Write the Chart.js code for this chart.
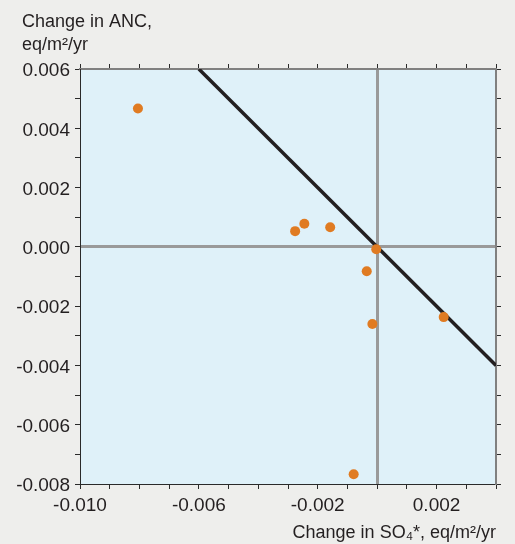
<!DOCTYPE html>
<html>
<head>
<meta charset="utf-8">
<script src="https://cdn.jsdelivr.net/npm/chart.js@4"></script>
<style>
  body { margin: 0; background: #eeeeec; }
  #wrap { width: 515px; height: 544px; }
</style>
</head>
<body>
<div id="wrap"><canvas id="chart" width="515" height="544"></canvas></div>
<script>
// дані
const so4Change = [-0.00805, -0.00276, -0.00245, -0.00158, -0.00003, -0.00035, -0.00016, 0.00224, -0.00079];
const ancChange = [0.00467, 0.00053, 0.00078, 0.00066, -0.00008, -0.00082, -0.0026, -0.00237, -0.00767];
const lineX = [-0.006, 0.004];
const lineY = [0.006, -0.004];
const xRange = [-0.010, 0.004];
const yRange = [-0.008, 0.006];

const yTitle = ['Change in ANC,', 'eq/m\u00b2/yr'];
const xTitle = 'Change in SO\u2084*, eq/m\u00b2/yr';

const FONT = "'Liberation Sans', Arial, sans-serif";
const zeroGray = '#9a9a9a';
const darkAxis = '#2a2a2a';
const lightAxis = '#808080';
const textColor = '#231f20';

function milli(v) {
  return Math.round(v * 1000);
}

// фон області побудови
const plotBg = {
  id: 'plotBg',
  beforeDraw(chart) {
    const a = chart.chartArea;
    const ctx = chart.ctx;
    ctx.save();
    ctx.fillStyle = '#dff1f9';
    ctx.fillRect(a.left, a.top, a.right - a.left, a.bottom - a.top);
    ctx.restore();
  }
};

// підпис осі Y у лівому верхньому куті
const yCaption = {
  id: 'yCaption',
  afterDraw(chart) {
    const ctx = chart.ctx;
    ctx.save();
    ctx.fillStyle = textColor;
    ctx.font = '18px ' + FONT;
    ctx.textAlign = 'left';
    ctx.textBaseline = 'middle';
    yTitle.forEach((t, i) => ctx.fillText(t, 22, 22 + i * 23));
    ctx.restore();
  }
};

const points = so4Change.map((x, i) => ({ x: x, y: ancChange[i] }));
const linePts = lineX.map((x, i) => ({ x: x, y: lineY[i] }));

function gridOpts(showZero) {
  return {
    drawOnChartArea: showZero,
    color: (c) => (showZero && c.tick && milli(c.tick.value) === 0) ? zeroGray : 'rgba(0,0,0,0)',
    lineWidth: (c) => (c.tick && milli(c.tick.value) === 0) ? 3 : 1,
    tickColor: darkAxis,
    tickWidth: 1,
    tickLength: 5
  };
}

const config = {
  type: 'scatter',
  data: {
    datasets: [
      {
        label: 'lakes',
        data: points,
        backgroundColor: '#e07b22',
        borderWidth: 0,
        pointRadius: 5,
        order: 0
      },
      {
        type: 'line',
        label: '1:1',
        data: linePts,
        borderColor: '#231f20',
        borderWidth: 3.5,
        pointRadius: 0,
        fill: false,
        order: 1
      }
    ]
  },
  options: {
    responsive: false,
    animation: false,
    layout: { padding: 0 },
    plugins: {
      legend: { display: false },
      tooltip: { enabled: false }
    },
    scales: {
      x: {
        type: 'linear',
        position: 'bottom',
        min: xRange[0],
        max: xRange[1],
        grid: gridOpts(true),
        border: { display: true, color: darkAxis, width: 1 },
        ticks: {
          stepSize: 0.001,
          autoSkip: false,
          maxRotation: 0,
          padding: 5,
          color: textColor,
          font: { family: FONT, size: 19 },
          callback: (v) => ((milli(v) + 10) % 4 === 0) ? (milli(v) / 1000).toFixed(3) : ''
        },
        title: {
          display: true,
          text: xTitle,
          align: 'end',
          color: textColor,
          font: { family: FONT, size: 18 },
          padding: { top: 2, bottom: 0 }
        },
        afterFit: (s) => { s.height = 60; }
      },
      x2: {
        type: 'linear',
        position: 'top',
        min: xRange[0],
        max: xRange[1],
        grid: gridOpts(false),
        border: { display: true, color: lightAxis, width: 2 },
        ticks: {
          stepSize: 0.001,
          autoSkip: false,
          callback: () => ''
        },
        afterFit: (s) => { s.height = 69; }
      },
      y: {
        type: 'linear',
        position: 'left',
        min: yRange[0],
        max: yRange[1],
        grid: gridOpts(true),
        border: { display: true, color: darkAxis, width: 1 },
        ticks: {
          stepSize: 0.001,
          autoSkip: false,
          padding: 5,
          labelOffset: 2,
          color: textColor,
          font: { family: FONT, size: 19 },
          callback: (v) => (milli(v) % 2 === 0) ? (milli(v) / 1000).toFixed(3) : ''
        },
        afterFit: (s) => { s.width = 80; }
      },
      y2: {
        type: 'linear',
        position: 'right',
        min: yRange[0],
        max: yRange[1],
        grid: gridOpts(false),
        border: { display: true, color: lightAxis, width: 2 },
        ticks: {
          stepSize: 0.001,
          autoSkip: false,
          callback: () => ''
        },
        afterFit: (s) => { s.width = 19; }
      }
    }
  },
  plugins: [plotBg, yCaption]
};

const ctx = document.getElementById('chart').getContext('2d');
const lakesChart = new Chart(ctx, config);
</script>
</body>
</html>
